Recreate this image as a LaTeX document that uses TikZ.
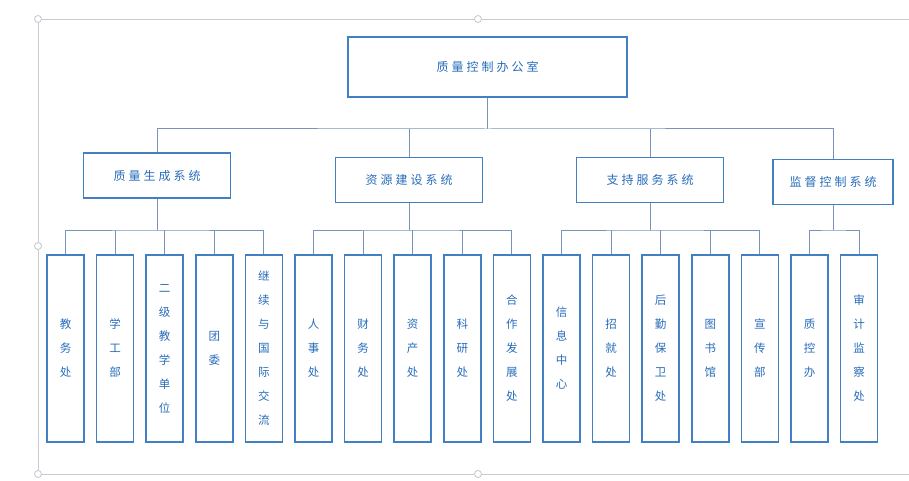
\documentclass[tikz,border=0pt]{standalone}
\usepackage{fontspec}
\newfontfamily\cjk{Noto Sans CJK SC}
\newfontfamily\cjkwide[LetterSpace=25]{Noto Sans CJK SC}

\definecolor{boxblue}{RGB}{66,128,196}
\definecolor{textblue}{RGB}{38,108,186}
\definecolor{linkgray}{RGB}{120,146,186}
\definecolor{handlegray}{RGB}{200,204,210}

\tikzset{
    topbox/.style={draw=boxblue, line width=1.8pt, text=textblue,
        minimum width=279pt, minimum height=60pt, inner sep=0pt,
        font=\cjkwide\fontsize{12}{14}\selectfont},
    sysbox/.style={draw=boxblue, line width=1.7pt, text=textblue,
        minimum height=45pt, inner sep=0pt,
        font=\cjkwide\fontsize{12}{14}\selectfont},
    unitbox/.style={draw=boxblue, line width=1.7pt, text=textblue,
        minimum width=37pt, minimum height=187pt, inner sep=0pt,
        align=center, font=\cjk\fontsize{11.5}{24}\selectfont},
    link/.style={draw=linkgray, line width=1pt},
    handle/.style={draw=handlegray, line width=0.9pt, fill=white},
}

\begin{document}
\begin{tikzpicture}[x=1pt,y=-1pt]
    \useasboundingbox (0,0) rectangle (909,481);
    %\tikzset{every node/.style={anchor=center}}

    % frame of the canvas
    \draw[handlegray, line width=0.6pt] (909,19) -- (38,19) -- (38,474) -- (909,474);
    \foreach \hx/\hy in {38/19, 478/19, 38/246, 38/474, 478/474}
        \draw[handle] (\hx,\hy) circle (3.5);

    \node[topbox] (office) at (487.5,67) {质量控制办公室};

    \node[sysbox, minimum width=147pt] (gen) at (157,175.5) {质量生成系统};
    \node[sysbox, minimum width=147pt] (res) at (409,180) {资源建设系统};
    \node[sysbox, minimum width=147pt] (serv) at (650,180) {支持服务系统};
    \node[sysbox, minimum width=120pt] (mon) at (833,182) {监督控制系统};

    \foreach \i/\txt in {
        1/教\\务\\处,
        2/学\\工\\部,
        3/二\\级\\教\\学\\单\\位,
        4/团\\委,
        5/继\\续\\与\\国\\际\\交\\流,
        6/人\\事\\处,
        7/财\\务\\处,
        8/资\\产\\处,
        9/科\\研\\处,
        10/合\\作\\发\\展\\处,
        11/信\\息\\中\\心,
        12/招\\就\\处,
        13/后\\勤\\保\\卫\\处,
        14/图\\书\\馆,
        15/宣\\传\\部,
        16/质\\控\\办,
        17/审\\计\\监\\察\\处}
        \node[unitbox] (u\i) at ({65.5+49.6*(\i-1)},348.5) {\txt};

    % first level
    \coordinate (bus) at (487.5,129);
    \draw[link] (office.south) -- (bus);
    \draw[link] (gen.north) |- (bus) -| (mon.north);
    \draw[link] (res.north) -- (res.north |- bus);
    \draw[link] (serv.north) -- (serv.north |- bus);

    % second level
    \coordinate (genbus) at (157,230);
    \coordinate (resbus) at (409,230);
    \coordinate (servbus) at (650,230);
    \coordinate (monbus) at (833,230);
    \draw[link] (gen.south) -- (genbus);
    \draw[link] (res.south) -- (resbus);
    \draw[link] (serv.south) -- (servbus);
    \draw[link] (mon.south) -- (monbus);
    \draw[link] (u1.north) |- (genbus) -| (u5.north);
    \draw[link] (u6.north) |- (resbus) -| (u10.north);
    \draw[link] (u11.north) |- (servbus) -| (u15.north);
    \draw[link] (u16.north) |- (monbus) -| (u17.north);
    \foreach \i in {2,3,4}
        \draw[link] (u\i.north) -- (u\i.north |- genbus);
    \foreach \i in {7,8,9}
        \draw[link] (u\i.north) -- (u\i.north |- resbus);
    \foreach \i in {12,13,14}
        \draw[link] (u\i.north) -- (u\i.north |- servbus);
\end{tikzpicture}
\end{document}
